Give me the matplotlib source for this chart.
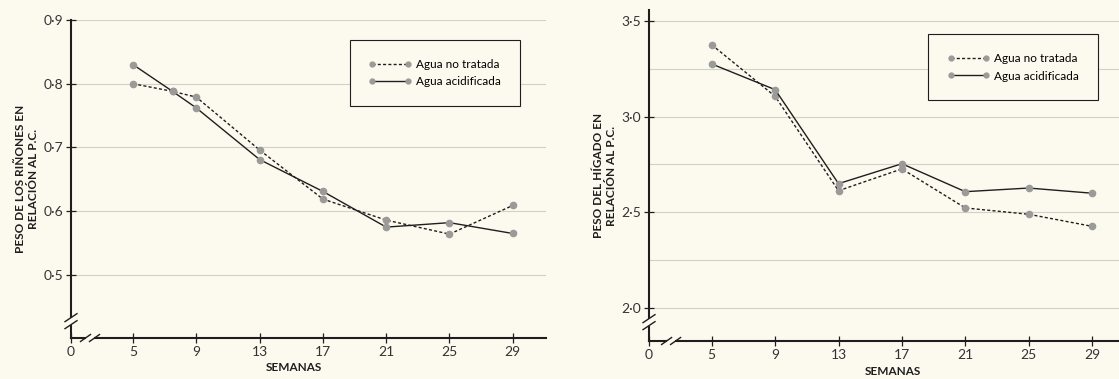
import numpy as np
import matplotlib.pyplot as plt
from matplotlib.patches import Rectangle
from matplotlib.ticker import FuncFormatter

# Kidney weight relative to body weight
weeks_k = [5, 7.5, 9, 13, 17, 21, 25, 29]
kidney_untreated = [0.800, 0.788, 0.779, 0.696, 0.619, 0.586, 0.564, 0.609]
kidney_acid = [0.830, 0.788, 0.762, 0.681, 0.631, 0.575, 0.582, 0.565]

# Liver weight relative to body weight
weeks_l = [5, 9, 13, 17, 21, 25, 29]
liver_untreated = [3.375, 3.106, 2.613, 2.727, 2.523, 2.490, 2.427]
liver_acid = [3.275, 3.141, 2.650, 2.754, 2.608, 2.627, 2.600]

week_ticks = [5, 9, 13, 17, 21, 25, 29]
labels = ["Agua no tratada", "Agua acidificada"]

bg = "#fcfaef"
ink = "#1e1e1e"
dot = "#9a9a98"
grid_c = "#d2d1c8"

plt.rcParams['font.family'] = ['Lato', 'DejaVu Sans']

fig = plt.figure(figsize=(11.19, 3.79), dpi=100, facecolor=bg)
ax1 = fig.add_axes([71 / 1119, 41 / 379, 475 / 1119, 318 / 379])
ax2 = fig.add_axes([649 / 1119, 38 / 379, 470 / 1119, 331 / 379])


def breaks(ax, xfrac, yfrac):
    # "//" marks on both axes, in pixel units
    pos = ax.get_position()
    wpx, hpx = pos.width * 1119, pos.height * 379
    px = lambda d: d / wpx
    py = lambda d: d / hpx
    kw = dict(transform=ax.transAxes, clip_on=False, zorder=6)
    ax.add_patch(Rectangle((-px(3), yfrac - py(3.5)), px(6), py(7),
                           facecolor=bg, edgecolor='none', **kw))
    for s in (-3.5, 3.5):
        ax.plot([-px(6), px(6)], [yfrac + py(s - 4), yfrac + py(s + 4)], color=ink, lw=1.0, **kw)
    ax.add_patch(Rectangle((xfrac - px(4), -py(3)), px(8), py(6),
                           facecolor=bg, edgecolor='none', **kw))
    for s in (-4.5, 4.5):
        ax.plot([xfrac + px(s - 5), xfrac + px(s + 5)], [-py(3.5), py(3.5)], color=ink, lw=1.0, **kw)


panels = [
    (ax1, weeks_k, kidney_untreated, kidney_acid, (1.08, 31.1), (0.401, 0.9),
     [0.5, 0.6, 0.7, 0.8, 0.9], [0.5, 0.6, 0.7, 0.8, 0.9],
     "PESO DE LOS RIÑONES EN\nRELACIÓN AL P.C.", -0.067, 0.47, (0.587, 0.937), 0.04, 0.053),
    (ax2, weeks_l, liver_untreated, liver_acid, (1.04, 30.7), (1.828, 3.557),
     [2.0, 2.5, 3.0, 3.5], [2.0, 2.25, 2.5, 2.75, 3.0, 3.25, 3.5],
     "PESO DEL HÍGADO EN\nRELACIÓN AL P.C.", -0.068, 0.52, (0.594, 0.927), 0.047, 0.057),
]

for (ax, wk, untreated, acid, xlim, ylim, yticks, ygrid, ylabel,
     ylab_x, xlab_x, anchor, xb, yb) in panels:
    ax.set_facecolor(bg)
    for y in ygrid:
        ax.axhline(y, color=grid_c, lw=0.8, zorder=0)
    ax.plot(wk, untreated, color=ink, lw=1.0, ls=(0, (2.2, 1.6)),
            marker='o', ms=4.5, mfc=dot, mec=dot, label=labels[0], zorder=3)
    ax.plot(wk, acid, color=ink, lw=1.0, ls='-',
            marker='o', ms=4.5, mfc=dot, mec=dot, label=labels[1], zorder=3)
    ax.set_xlim(*xlim)
    ax.set_ylim(*ylim)
    ax.set_xticks([xlim[0]] + week_ticks)
    ax.set_xticklabels(['0'] + [str(w) for w in week_ticks])
    ax.set_yticks(yticks)
    ax.yaxis.set_major_formatter(FuncFormatter(lambda v, p: f"{v:.1f}".replace('.', '·')))
    for side in ('top', 'right'):
        ax.spines[side].set_visible(False)
    for side in ('left', 'bottom'):
        ax.spines[side].set_color(ink)
        ax.spines[side].set_linewidth(1.5)
    ax.tick_params(axis='both', direction='inout', length=7, width=0.9, color=ink,
                   labelsize=10, labelcolor='#333333', pad=2)
    ax.set_ylabel(ylabel, fontsize=8.5, fontweight='bold', color=ink, linespacing=1.25)
    ax.yaxis.set_label_coords(ylab_x, 0.5)
    ax.set_xlabel("SEMANAS", fontsize=8.5, fontweight='bold', color=ink)
    ax.xaxis.set_label_coords(xlab_x, -0.075)
    leg = ax.legend(loc='upper left', bbox_to_anchor=anchor, borderaxespad=0,
                    numpoints=2, handlelength=3.6, handletextpad=0.4, labelspacing=0.55,
                    borderpad=1.6, fontsize=8.5, fancybox=False, framealpha=1,
                    facecolor=bg, edgecolor=ink)
    leg.get_frame().set_linewidth(0.8)
    for h in leg.legend_handles:
        h.set_markersize(3.5)
    breaks(ax, xb, yb)

fig.savefig("out.png", dpi=100, facecolor=bg)
